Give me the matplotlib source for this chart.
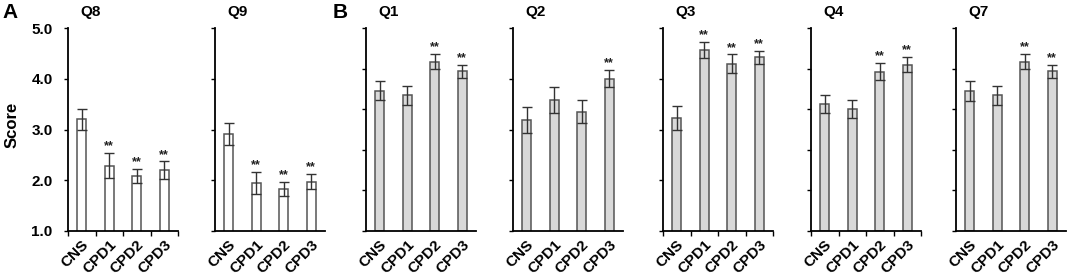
import numpy as np
import matplotlib.pyplot as plt

plt.rcParams['font.family'] = ['Liberation Sans', 'DejaVu Sans']
plt.rcParams['font.weight'] = 'bold'

# categories on every panel
groups = ['CNS', 'CPD1', 'CPD2', 'CPD3']

# panel A (white bars, 1-5 scale)
q8_mean = [3.20, 2.29, 2.08, 2.20]
q8_err = [0.20, 0.25, 0.14, 0.17]
q8_sig = [False, True, True, True]

q9_mean = [2.91, 1.94, 1.83, 1.97]
q9_err = [0.22, 0.22, 0.14, 0.15]
q9_sig = [False, True, True, True]

# panel B (gray bars)
q1_mean = [3.46, 3.34, 4.17, 3.93]
q1_err = [0.24, 0.24, 0.19, 0.16]
q1_sig = [False, False, True, True]

q2_mean = [3.19, 3.58, 3.35, 4.00]
q2_err = [0.25, 0.26, 0.23, 0.17]
q2_sig = [False, False, False, True]

q3_mean = [3.23, 4.57, 4.30, 4.42]
q3_err = [0.24, 0.16, 0.18, 0.12]
q3_sig = [False, True, True, True]

q4_mean = [3.13, 3.01, 3.92, 4.10]
q4_err = [0.23, 0.22, 0.21, 0.18]
q4_sig = [False, False, True, True]

q7_mean = [3.45, 3.34, 4.17, 3.93]
q7_err = [0.24, 0.24, 0.19, 0.16]
q7_sig = [False, False, True, True]

W, H = 1072, 279
fig = plt.figure(figsize=(W / 100, H / 100), dpi=100)

# (title, means, errors, significance, fill, y range, y ticks, y labels shown, x ticks shown, left px)
panels = [
    ('Q8', q8_mean, q8_err, q8_sig, 'white', (1, 5), [1, 2, 3, 4, 5], True, True, 68),
    ('Q9', q9_mean, q9_err, q9_sig, 'white', (1, 5), [1, 2, 3, 4, 5], False, False, 215),
    ('Q1', q1_mean, q1_err, q1_sig, '#d9d9d9', (0, 5), [0, 1, 2, 3, 4, 5], False, False, 366),
    ('Q2', q2_mean, q2_err, q2_sig, '#d9d9d9', (1, 5), [1, 2, 3, 4, 5], False, False, 513),
    ('Q3', q3_mean, q3_err, q3_sig, '#d9d9d9', (1, 5), [1, 2, 3, 4, 5], False, True, 663),
    ('Q4', q4_mean, q4_err, q4_sig, '#d9d9d9', (0, 5), [0, 1, 2, 3, 4, 5], False, True, 811),
    ('Q7', q7_mean, q7_err, q7_sig, '#d9d9d9', (0, 5), [0, 1, 2, 3, 4, 5], False, False, 956),
]

ax_w = 110
ax_top = 28
ax_bot = 231

for title, mean, err, sig, fill, ylim, yt, show_ylab, show_xt, left in panels:
    ax = fig.add_axes([left / W, 1 - ax_bot / H, ax_w / W, (ax_bot - ax_top) / H])
    x = np.arange(len(groups)) + 0.5
    ax.bar(x, mean, width=0.33, color=fill, edgecolor='#555555', linewidth=1.1, zorder=2)
    ax.errorbar(x, mean, yerr=err, fmt='none', ecolor='#333333', elinewidth=1.0,
                capsize=3.5, capthick=1.0, zorder=3)
    for xi, m, e, s in zip(x, mean, err, sig):
        if s:
            ax.annotate('**', (xi, m + e), xytext=(0, 0.5), textcoords='offset points',
                        ha='center', va='bottom', fontsize=9, color='#222222',
                        fontweight='bold')
    ax.set_xlim(0, 4)
    ax.set_ylim(*ylim)
    ax.set_yticks(yt)
    if show_ylab:
        ax.set_yticklabels(['%.1f' % v for v in yt], fontsize=11, fontweight='bold')
    else:
        ax.set_yticklabels([])
    ax.set_xticks([0, 1, 2, 3, 4])
    ax.set_xticklabels([])
    ax.set_xticks(x, minor=True)
    ax.set_xticklabels(groups, minor=True, rotation=45, ha='right', rotation_mode='anchor',
                       fontsize=11, fontweight='bold')
    ax.tick_params(axis='x', which='minor', length=0, pad=5)
    if show_xt:
        ax.tick_params(axis='x', which='major', length=3.5, width=1.0, direction='out')
    else:
        ax.tick_params(axis='x', which='major', length=0)
    ax.tick_params(axis='y', length=3, width=1.0, direction='out', pad=8)
    for sp in ['top', 'right']:
        ax.spines[sp].set_visible(False)
    for sp in ['left', 'bottom']:
        ax.spines[sp].set_linewidth(1.3)
    fig.text((left + 12) / W, 1 - 12 / H, title, fontsize=11, fontweight='bold',
             ha='left', va='center')

fig.text(12 / W, 1 - 125 / H, 'Score', rotation=90, fontsize=12, fontweight='bold',
         ha='center', va='center')
fig.text(2 / W, 1 - 13 / H, 'A', fontsize=15, fontweight='bold', ha='left', va='center')
fig.text(333 / W, 1 - 13 / H, 'B', fontsize=15, fontweight='bold', ha='left', va='center')

fig.savefig('out.png', dpi=100)
